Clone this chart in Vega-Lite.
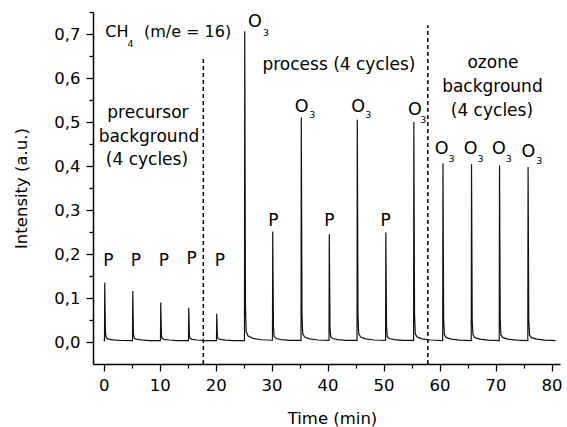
{
  "$schema": "https://vega.github.io/schema/vega-lite/v6.json",
  "width": 467,
  "height": 352,
  "autosize": "none",
  "padding": {"left": 93, "top": 12, "right": 7, "bottom": 63},
  "background": "white",
  "config": {
    "view": {"stroke": null},
    "font": "DejaVu Sans",
    "axis": {
      "domainColor": "black",
      "domainWidth": 1.5,
      "tickColor": "black",
      "tickWidth": 1.3,
      "grid": false,
      "labelColor": "black",
      "labelFont": "DejaVu Sans",
      "labelFontSize": 16.5,
      "titleFont": "DejaVu Sans",
      "titleFontSize": 16.5,
      "titleFontWeight": "normal",
      "titleColor": "black"
    }
  },
  "datasets": {
    "series": [
      {"t": 0.0, "v": 0.004},
      {"t": 0.15, "v": 0.003}, {"t": 0.2, "v": 0.135}, {"t": 0.27, "v": 0.0675}, {"t": 0.32, "v": 0.0212}, {"t": 0.45, "v": 0.0094}, {"t": 0.8, "v": 0.0066}, {"t": 1.7, "v": 0.0048}, {"t": 3.2, "v": 0.0034},
      {"t": 5.15, "v": 0.003}, {"t": 5.2, "v": 0.116}, {"t": 5.27, "v": 0.058}, {"t": 5.32, "v": 0.0189}, {"t": 5.45, "v": 0.0089}, {"t": 5.8, "v": 0.0064}, {"t": 6.7, "v": 0.0047}, {"t": 8.2, "v": 0.0033},
      {"t": 10.15, "v": 0.003}, {"t": 10.2, "v": 0.09}, {"t": 10.27, "v": 0.045}, {"t": 10.32, "v": 0.0158}, {"t": 10.45, "v": 0.0083}, {"t": 10.8, "v": 0.0061}, {"t": 11.7, "v": 0.0045}, {"t": 13.2, "v": 0.0033},
      {"t": 15.15, "v": 0.003}, {"t": 15.2, "v": 0.078}, {"t": 15.27, "v": 0.039}, {"t": 15.32, "v": 0.0144}, {"t": 15.45, "v": 0.008}, {"t": 15.8, "v": 0.0059}, {"t": 16.7, "v": 0.0045}, {"t": 18.2, "v": 0.0032},
      {"t": 20.15, "v": 0.003}, {"t": 20.2, "v": 0.064}, {"t": 20.27, "v": 0.032}, {"t": 20.32, "v": 0.0127}, {"t": 20.45, "v": 0.0076}, {"t": 20.8, "v": 0.0058}, {"t": 21.7, "v": 0.0044}, {"t": 23.2, "v": 0.0032},
      {"t": 25.15, "v": 0.003}, {"t": 25.2, "v": 0.706}, {"t": 25.27, "v": 0.353}, {"t": 25.32, "v": 0.0897}, {"t": 25.45, "v": 0.0237}, {"t": 25.8, "v": 0.0135}, {"t": 26.7, "v": 0.0082}, {"t": 28.2, "v": 0.0051},
      {"t": 30.15, "v": 0.004}, {"t": 30.2, "v": 0.251}, {"t": 30.27, "v": 0.1255}, {"t": 30.32, "v": 0.0351}, {"t": 30.45, "v": 0.0123}, {"t": 30.8, "v": 0.008}, {"t": 31.7, "v": 0.0055}, {"t": 33.2, "v": 0.0038},
      {"t": 35.25, "v": 0.0035}, {"t": 35.3, "v": 0.51}, {"t": 35.37, "v": 0.255}, {"t": 35.42, "v": 0.0662}, {"t": 35.55, "v": 0.0188}, {"t": 35.9, "v": 0.0111}, {"t": 36.8, "v": 0.0071}, {"t": 38.3, "v": 0.0045},
      {"t": 40.25, "v": 0.0035}, {"t": 40.3, "v": 0.245}, {"t": 40.37, "v": 0.1225}, {"t": 40.42, "v": 0.0344}, {"t": 40.55, "v": 0.0121}, {"t": 40.9, "v": 0.0079}, {"t": 41.8, "v": 0.0055}, {"t": 43.3, "v": 0.0037},
      {"t": 45.25, "v": 0.0035}, {"t": 45.3, "v": 0.505}, {"t": 45.37, "v": 0.2525}, {"t": 45.42, "v": 0.0656}, {"t": 45.55, "v": 0.0186}, {"t": 45.9, "v": 0.0111}, {"t": 46.8, "v": 0.007}, {"t": 48.3, "v": 0.0045},
      {"t": 50.35, "v": 0.0035}, {"t": 50.4, "v": 0.249}, {"t": 50.47, "v": 0.1245}, {"t": 50.52, "v": 0.0349}, {"t": 50.65, "v": 0.0122}, {"t": 51.0, "v": 0.008}, {"t": 51.9, "v": 0.0055}, {"t": 53.4, "v": 0.0037},
      {"t": 55.35, "v": 0.0035}, {"t": 55.4, "v": 0.5}, {"t": 55.47, "v": 0.25}, {"t": 55.52, "v": 0.065}, {"t": 55.65, "v": 0.0185}, {"t": 56.0, "v": 0.011}, {"t": 56.9, "v": 0.007}, {"t": 58.4, "v": 0.0045},
      {"t": 60.55, "v": 0.003}, {"t": 60.6, "v": 0.406}, {"t": 60.67, "v": 0.203}, {"t": 60.72, "v": 0.0537}, {"t": 60.85, "v": 0.0162}, {"t": 61.2, "v": 0.0099}, {"t": 62.1, "v": 0.0064}, {"t": 63.6, "v": 0.0042},
      {"t": 65.65, "v": 0.003}, {"t": 65.7, "v": 0.404}, {"t": 65.77, "v": 0.202}, {"t": 65.82, "v": 0.0535}, {"t": 65.95, "v": 0.0161}, {"t": 66.3, "v": 0.0098}, {"t": 67.2, "v": 0.0064}, {"t": 68.7, "v": 0.0042},
      {"t": 70.65, "v": 0.003}, {"t": 70.7, "v": 0.401}, {"t": 70.77, "v": 0.2005}, {"t": 70.82, "v": 0.0531}, {"t": 70.95, "v": 0.016}, {"t": 71.3, "v": 0.0098}, {"t": 72.2, "v": 0.0064}, {"t": 73.7, "v": 0.0042},
      {"t": 75.75, "v": 0.003}, {"t": 75.8, "v": 0.398}, {"t": 75.87, "v": 0.199}, {"t": 75.92, "v": 0.0528}, {"t": 76.05, "v": 0.016}, {"t": 76.4, "v": 0.0098}, {"t": 77.3, "v": 0.0064}, {"t": 78.8, "v": 0.0042},
      {"t": 80.7, "v": 0.003}
    ],
    "dividers": [
      {"t": 17.8, "v": -0.05, "v2": 0.65},
      {"t": 57.9, "v": -0.05, "v2": 0.72}
    ],
    "notes": [
      {"t": 7.91, "v": 0.52, "label": "precursor"},
      {"t": 8.09, "v": 0.466, "label": "background"},
      {"t": 7.73, "v": 0.414, "label": "(4 cycles)"},
      {"t": 42.02, "v": 0.63, "label": "process (4 cycles)"},
      {"t": 69.52, "v": 0.634, "label": "ozone"},
      {"t": 69.43, "v": 0.58, "label": "background"},
      {"t": 69.34, "v": 0.525, "label": "(4 cycles)"},
      {"t": 0.84, "v": 0.184, "label": "P"},
      {"t": 5.77, "v": 0.184, "label": "P"},
      {"t": 10.77, "v": 0.184, "label": "P"},
      {"t": 15.7, "v": 0.189, "label": "P"},
      {"t": 20.77, "v": 0.184, "label": "P"},
      {"t": 30.3, "v": 0.275, "label": "P"},
      {"t": 40.3, "v": 0.275, "label": "P"},
      {"t": 50.37, "v": 0.275, "label": "P"}
    ],
    "leftnotes": [
      {"t": 0.29, "v": 0.705, "label": "CH"},
      {"t": 7.2, "v": 0.705, "label": "(m/e = 16)"}
    ],
    "bigO": [
      {"t": 27.03, "v": 0.728, "label": "O"},
      {"t": 35.36, "v": 0.535, "label": "O"},
      {"t": 45.46, "v": 0.534, "label": "O"},
      {"t": 55.59, "v": 0.527, "label": "O"},
      {"t": 60.36, "v": 0.438, "label": "O"},
      {"t": 65.54, "v": 0.438, "label": "O"},
      {"t": 70.59, "v": 0.438, "label": "O"},
      {"t": 75.84, "v": 0.432, "label": "O"}
    ],
    "subs": [
      {"t": 4.8, "v": 0.678, "label": "4"},
      {"t": 29.0, "v": 0.702, "label": "3"},
      {"t": 37.27, "v": 0.516, "label": "3"},
      {"t": 47.27, "v": 0.516, "label": "3"},
      {"t": 57.09, "v": 0.5045, "label": "3"},
      {"t": 62.14, "v": 0.415, "label": "3"},
      {"t": 67.32, "v": 0.415, "label": "3"},
      {"t": 72.37, "v": 0.415, "label": "3"},
      {"t": 77.79, "v": 0.411, "label": "3"}
    ]
  },
  "resolve": {"axis": {"x": "independent", "y": "independent"}},
  "layer": [
    {
      "data": {"name": "series"},
      "mark": {"type": "line", "stroke": "#111111", "strokeWidth": 1.2, "interpolate": "linear"},
      "encoding": {
        "x": {
          "field": "t", "type": "quantitative",
          "scale": {"domain": [-1.9, 81.5], "nice": false, "zero": false},
          "axis": {
            "orient": "bottom",
            "values": [0, 10, 20, 30, 40, 50, 60, 70, 80],
            "tickSize": 7,
            "labelPadding": 6,
            "title": "Time (min)",
            "titleX": 239,
            "titleY": 54,
            "titleBaseline": "middle",
            "titleAlign": "center"
          }
        },
        "y": {
          "field": "v", "type": "quantitative",
          "scale": {"domain": [-0.05, 0.75], "nice": false, "zero": false},
          "axis": {
            "orient": "left",
            "values": [0, 0.1, 0.2, 0.3, 0.4, 0.5, 0.6, 0.7],
            "labelExpr": "replace(format(datum.value, '.1f'), '.', ',')",
            "tickSize": 7,
            "labelPadding": 6,
            "title": "Intensity (a.u.)",
            "titleAngle": -90,
            "titleX": -72,
            "titleY": 176,
            "titleBaseline": "middle",
            "titleAlign": "center"
          }
        }
      }
    },
    {
      "data": {"name": "series"},
      "mark": {"type": "point", "opacity": 0},
      "encoding": {
        "x": {
          "field": "t", "type": "quantitative",
          "axis": {
            "orient": "bottom",
            "values": [5, 15, 25, 35, 45, 55, 65, 75],
            "tickSize": 4,
            "labels": false,
            "domain": false,
            "title": null
          }
        },
        "y": {
          "field": "v", "type": "quantitative",
          "axis": {
            "orient": "left",
            "values": [0.05, 0.15, 0.25, 0.35, 0.45, 0.55, 0.65, 0.75],
            "tickSize": 4,
            "labels": false,
            "domain": false,
            "title": null
          }
        }
      }
    },
    {
      "data": {"name": "dividers"},
      "mark": {"type": "rule", "stroke": "black", "strokeWidth": 1.5, "strokeDash": [4, 3]},
      "encoding": {
        "x": {"field": "t", "type": "quantitative", "axis": null},
        "y": {"field": "v", "type": "quantitative", "axis": null},
        "y2": {"field": "v2"}
      }
    },
    {
      "data": {"name": "notes"},
      "mark": {"type": "text", "fontSize": 17, "font": "DejaVu Sans", "color": "black", "align": "center", "baseline": "middle"},
      "encoding": {
        "x": {"field": "t", "type": "quantitative", "axis": null},
        "y": {"field": "v", "type": "quantitative", "axis": null},
        "text": {"field": "label"}
      }
    },
    {
      "data": {"name": "leftnotes"},
      "mark": {"type": "text", "fontSize": 16, "font": "DejaVu Sans", "color": "black", "align": "left", "baseline": "middle"},
      "encoding": {
        "x": {"field": "t", "type": "quantitative", "axis": null},
        "y": {"field": "v", "type": "quantitative", "axis": null},
        "text": {"field": "label"}
      }
    },
    {
      "data": {"name": "bigO"},
      "mark": {"type": "text", "fontSize": 17.5, "font": "DejaVu Sans", "color": "black", "align": "center", "baseline": "middle"},
      "encoding": {
        "x": {"field": "t", "type": "quantitative", "axis": null},
        "y": {"field": "v", "type": "quantitative", "axis": null},
        "text": {"field": "label"}
      }
    },
    {
      "data": {"name": "subs"},
      "mark": {"type": "text", "fontSize": 9.5, "font": "DejaVu Sans", "color": "black", "align": "center", "baseline": "middle"},
      "encoding": {
        "x": {"field": "t", "type": "quantitative", "axis": null},
        "y": {"field": "v", "type": "quantitative", "axis": null},
        "text": {"field": "label"}
      }
    }
  ]
}
